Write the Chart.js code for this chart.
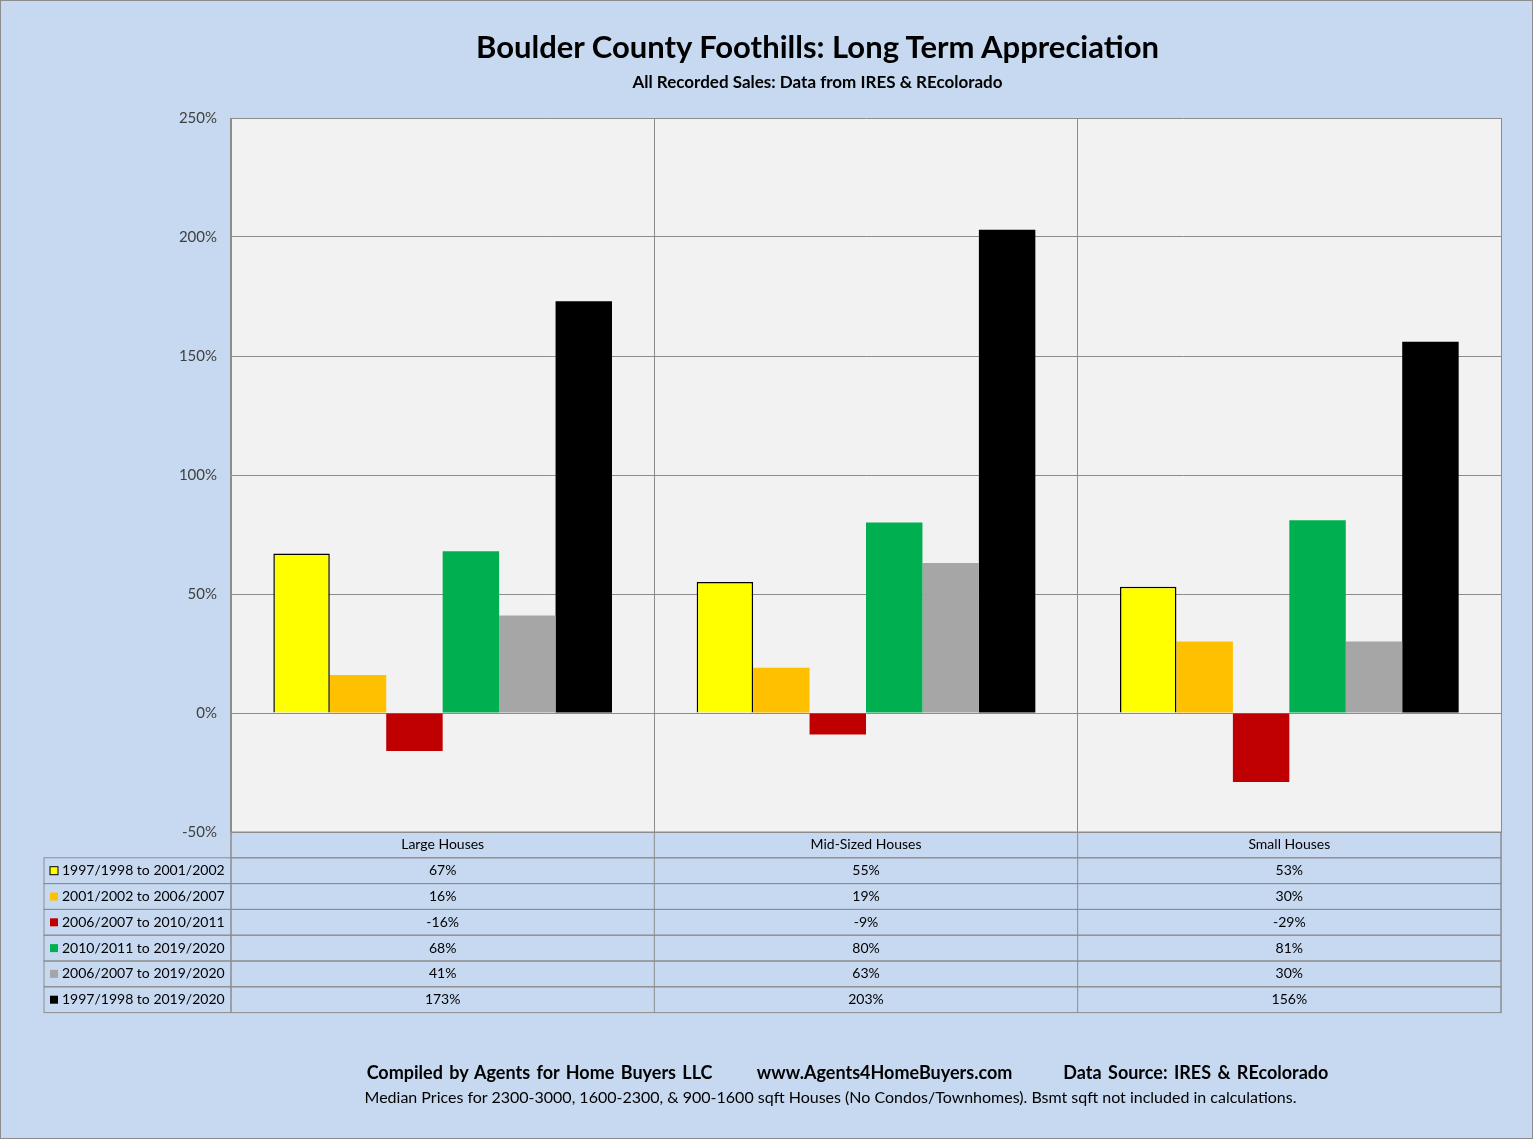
<!DOCTYPE html>
<html><head><meta charset="utf-8">
<script src="https://cdn.jsdelivr.net/npm/chart.js@4"></script>
<style>
body{margin:0;background:#C6D9F0;font-family:Lato,"Open Sans",sans-serif;}
#wrap{position:relative;width:1531px;height:1137px;border:1px solid #8c8c8c;}
canvas{position:absolute;left:0;top:0;}
.t{position:absolute;left:0;width:1633px;text-align:center;color:#000;}
</style></head><body>
<div id="wrap">
<canvas id="c" width="1531" height="1137"></canvas>
<div class="t" style="top:26px;font-size:31px;font-weight:bold;width:1633px;">Boulder County Foothills: Long Term Appreciation</div>
<div class="t" style="top:70px;font-size:17px;font-weight:bold;width:1633px;">All Recorded Sales: Data from IRES &amp; REcolorado</div>
<div class="t" style="top:1060px;font-size:18px;font-weight:bold;width:1693px;word-spacing:2px;">Compiled by Agents for Home Buyers LLC &nbsp;&nbsp;&nbsp;&nbsp;&nbsp; www.Agents4HomeBuyers.com &nbsp;&nbsp;&nbsp;&nbsp;&nbsp;&nbsp; Data Source: IRES &amp; REcolorado</div>
<div class="t" style="top:1086px;font-size:16px;width:1659px;">Median Prices for 2300-3000, 1600-2300, &amp; 900-1600 sqft Houses (No Condos/Townhomes). Bsmt sqft not included in calculations.</div>
</div>
<script>
var categories = ['Large Houses', 'Mid-Sized Houses', 'Small Houses'];
var seriesNames = ['1997/1998 to 2001/2002', '2001/2002 to 2006/2007', '2006/2007 to 2010/2011',
                   '2010/2011 to 2019/2020', '2006/2007 to 2019/2020', '1997/1998 to 2019/2020'];
var s1 = [67, 55, 53];
var s2 = [16, 19, 30];
var s3 = [-16, -9, -29];
var s4 = [68, 80, 81];
var s5 = [41, 63, 30];
var s6 = [173, 203, 156];
var colors = ['#FFFF00', '#FFC000', '#C00000', '#00B050', '#A6A6A6', '#000000'];

var allSeries = [s1, s2, s3, s4, s5, s6];
var datasets = allSeries.map(function (d, i) {
    return {
        label: seriesNames[i], data: d, backgroundColor: colors[i],
        borderColor: '#000', borderWidth: i === 0 ? 1.5 : 0,
        categoryPercentage: 0.8, barPercentage: 1
    };
});

var tablePlugin = {
    id: 'table',
    afterDraw: function (chart) {
        var ctx = chart.ctx, a = chart.chartArea, x = chart.scales.x;
        var rowH = 25.8, top = a.bottom, left0 = 43;
        var step = (a.right - a.left) / categories.length;
        ctx.save();
        ctx.strokeStyle = '#8c8c8c'; ctx.lineWidth = 1;
        ctx.font = '14px Lato, "Open Sans", sans-serif';
        ctx.fillStyle = '#000'; ctx.textBaseline = 'middle';
        // header row
        ctx.strokeRect(a.left, top, a.right - a.left, rowH);
        ctx.textAlign = 'center';
        categories.forEach(function (c, j) {
            ctx.fillText(c, x.getPixelForValue(j), top + rowH / 2);
            ctx.beginPath(); ctx.moveTo(a.left + step * j, top); ctx.lineTo(a.left + step * j, top + rowH * 7); ctx.stroke();
        });
        allSeries.forEach(function (d, i) {
            var y = top + rowH * (i + 1);
            ctx.strokeRect(left0, y, a.right - left0, rowH);
            ctx.beginPath(); ctx.moveTo(a.left, y); ctx.lineTo(a.left, y + rowH); ctx.stroke();
            ctx.fillStyle = colors[i];
            ctx.fillRect(left0 + 6, y + rowH / 2 - 4, 8, 8);
            if (i === 0) { ctx.strokeStyle = '#000'; ctx.strokeRect(left0 + 6, y + rowH / 2 - 4, 8, 8); ctx.strokeStyle = '#8c8c8c'; }
            ctx.fillStyle = '#000'; ctx.textAlign = 'left';
            ctx.fillText(seriesNames[i], left0 + 18, y + rowH / 2);
            ctx.textAlign = 'center';
            d.forEach(function (v, j) { ctx.fillText(v + '%', x.getPixelForValue(j), y + rowH / 2); });
        });
        ctx.beginPath(); ctx.moveTo(a.right, top); ctx.lineTo(a.right, top + rowH * 7); ctx.stroke();
        ctx.restore();
    }
};
var bgPlugin = {
    id: 'bg',
    beforeDraw: function (chart) {
        var a = chart.chartArea, ctx = chart.ctx;
        ctx.save(); ctx.fillStyle = '#F2F2F2';
        ctx.fillRect(a.left, a.top, a.right - a.left, a.bottom - a.top); ctx.restore();
    }
};

new Chart(document.getElementById('c'), {
    type: 'bar',
    data: { labels: categories, datasets: datasets },
    options: {
        responsive: false, animation: false,
        layout: { padding: { left: 170, top: 117, right: 31, bottom: 306 } },
        plugins: { legend: { display: false }, tooltip: { enabled: false } },
        scales: {
            x: {
                ticks: { display: false },
                grid: { offset: true, color: '#8c8c8c', drawTicks: false },
                border: { color: '#8c8c8c' },
                afterFit: function (s) { s.height = 0; }
            },
            y: {
                min: -50, max: 250,
                ticks: { stepSize: 50, color: '#404040', padding: 14,
                         font: { size: 15, family: 'Lato' },
                         callback: function (v) { return v + '%'; } },
                grid: { color: '#8c8c8c', drawTicks: false },
                border: { color: '#8c8c8c' },
                afterFit: function (s) { s.width = 60; }
            }
        }
    },
    plugins: [bgPlugin, tablePlugin]
});
</script>
</body></html>
